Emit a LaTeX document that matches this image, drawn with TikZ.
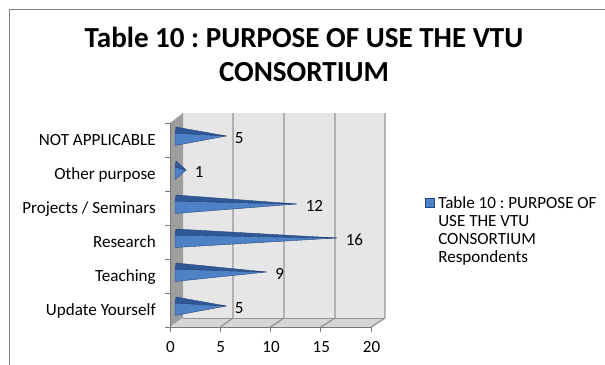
\documentclass[tikz,border=0pt]{standalone}
\usepackage{fontspec}
\setmainfont{Carlito}
\frenchspacing
\definecolor{barblue}{RGB}{79,129,199}
\definecolor{bartop}{RGB}{46,88,150}
\definecolor{bardark}{RGB}{37,70,125}
\definecolor{wallback}{RGB}{230,230,230}
\definecolor{wallside}{RGB}{158,158,158}
\definecolor{floorgray}{RGB}{214,214,214}
\definecolor{gridgray}{RGB}{150,150,150}
\definecolor{framegray}{RGB}{128,128,128}

\begin{document}
\begin{tikzpicture}[
            x=0.75pt, y=-0.75pt,
            chart text/.style={font=\fontsize{12.8}{13.5}\selectfont, inner sep=0pt},
            cat label/.style={chart text, anchor=base east},
            val label/.style={chart text, anchor=base west},
            bar face/.style={fill=barblue, draw=bardark, line width=0.3pt},
            bar top/.style={fill=bartop, draw=bardark, line width=0.3pt},
            grid line/.style={draw=gridgray, line width=1pt},
            ]
            
            \useasboundingbox (0,0) rectangle (605,364);
            \fill[white] (0,0) rectangle (605,364);
            \draw[framegray, line width=0.9pt] (9.5,380) -- (9.5,9.5) -- (620,9.5);
            
            \node[font=\bfseries\fontsize{21.8}{25.5}\selectfont, align=center, inner sep=0pt, anchor=north] (title) at (304,27) {Table 10 : PURPOSE OF USE THE VTU\\CONSORTIUM};
            
            % walls and floor
            \fill[wallback] (183,113) rectangle (385,318);
            \fill[wallside] (170,123) -- (183,113) -- (183,318) -- (170,327) -- cycle;
            \fill[floorgray] (170,327) -- (183,318) -- (385,318) -- (372,327) -- cycle;
            \draw[grid line] (233,113) -- (233,318) -- (220.25,327);
            \draw[grid line] (284,113) -- (284,318) -- (270.5,327);
            \draw[grid line] (335,113) -- (335,318) -- (320.75,327);
            \draw[grid line] (385,113) -- (385,318) -- (371,327);
            \draw[gridgray, line width=0.6pt] (183,318) -- (385,318);
            
            % axes
            \draw[gridgray!80!black, line width=0.6pt] (170,123) -- (170,327) -- (372,327);
            \draw[gridgray!80!black, line width=0.6pt] (165,123) -- (170,123);
            \draw[gridgray!80!black, line width=0.6pt] (165,157) -- (170,157);
            \draw[gridgray!80!black, line width=0.6pt] (165,191) -- (170,191);
            \draw[gridgray!80!black, line width=0.6pt] (165,225) -- (170,225);
            \draw[gridgray!80!black, line width=0.6pt] (165,259) -- (170,259);
            \draw[gridgray!80!black, line width=0.6pt] (165,293) -- (170,293);
            \draw[gridgray!80!black, line width=0.6pt] (165,327) -- (170,327);
            \draw[gridgray!80!black, line width=0.6pt] (170,327) -- (170,332);
            \draw[gridgray!80!black, line width=0.6pt] (220.25,327) -- (220.25,332);
            \draw[gridgray!80!black, line width=0.6pt] (270.5,327) -- (270.5,332);
            \draw[gridgray!80!black, line width=0.6pt] (320.75,327) -- (320.75,332);
            \draw[gridgray!80!black, line width=0.6pt] (371,327) -- (371,332);
            
            \node[chart text] (t0) at (170.5,347) {0};
            \node[chart text] (t5) at (220.75,347) {5};
            \node[chart text] (t10) at (271,347) {10};
            \node[chart text] (t15) at (321.25,347) {15};
            \node[chart text] (t20) at (371.5,347) {20};
            
            % bars
            \draw[bar face] (175,133) -- (175,145.5) -- (226.25,136) -- cycle;
            \draw[bar top] (176,127) -- (175,133) -- (226.25,136) -- cycle;
            \draw[bar face] (175,167) -- (175,179.5) -- (186,170) -- cycle;
            \draw[bar top] (176,161) -- (175,167) -- (186,170) -- cycle;
            \draw[bar face] (175,201) -- (175,213.5) -- (296.6,204) -- cycle;
            \draw[bar top] (176,195) -- (175,201) -- (296.6,204) -- cycle;
            \draw[bar face] (175,235) -- (175,247.5) -- (336.8,238) -- cycle;
            \draw[bar top] (176,229) -- (175,235) -- (336.8,238) -- cycle;
            \draw[bar face] (175,269) -- (175,281.5) -- (266.5,272) -- cycle;
            \draw[bar top] (176,263) -- (175,269) -- (266.5,272) -- cycle;
            \draw[bar face] (175,303) -- (175,315.5) -- (226.25,306) -- cycle;
            \draw[bar top] (176,297) -- (175,303) -- (226.25,306) -- cycle;
            
            \node[cat label] (notapp) at (156,145) {NOT APPLICABLE};
            \node[cat label] (other) at (156,179) {Other purpose};
            \node[cat label] (projects) at (156,213) {Projects / Seminars};
            \node[cat label] (research) at (156,247) {Research};
            \node[cat label] (teaching) at (156,281) {Teaching};
            \node[cat label] (update) at (156,315) {Update Yourself};
            
            \node[val label] (vnotapp) at (234.5,143) {5};
            \node[val label] (vother) at (194.5,177) {1};
            \node[val label] (vprojects) at (305.5,211) {12};
            \node[val label] (vresearch) at (345.5,245) {16};
            \node[val label] (vteaching) at (275,279) {9};
            \node[val label] (vupdate) at (234.5,313) {5};
            
            % legend
            \node[fill=barblue, draw=bardark, line width=0.3pt, minimum size=6.5pt, inner sep=0pt] (key) at (429.5,202.5) {};
            \node[chart text, font=\fontsize{12.8}{13.5}\selectfont, align=left, anchor=north west] (keytext) at (438,196) {Table 10 : PURPOSE OF\\USE THE VTU\\CONSORTIUM\\Respondents};
        \end{tikzpicture}
\end{document}
